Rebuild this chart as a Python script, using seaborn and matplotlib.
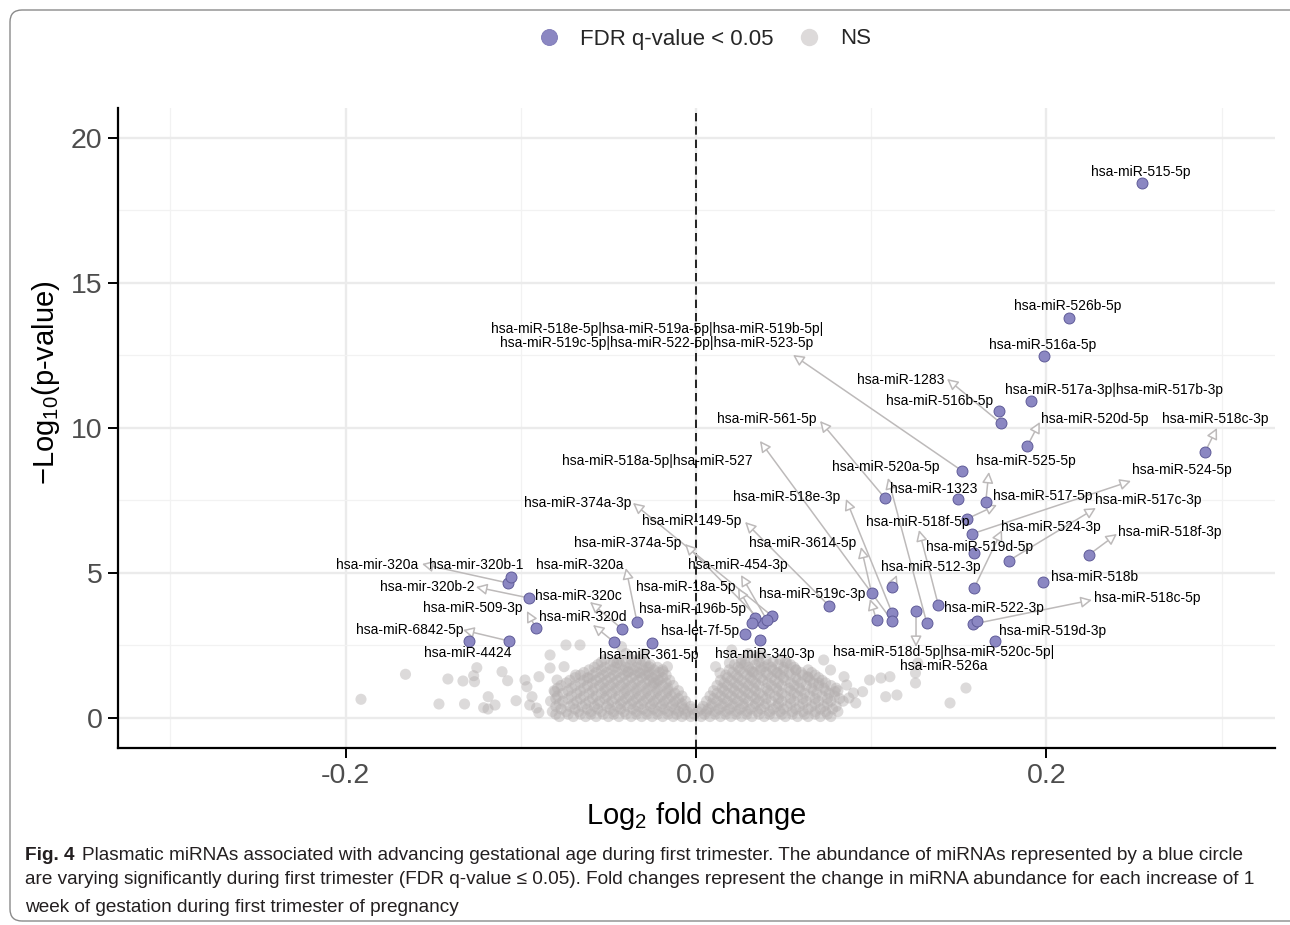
import numpy as np
import pandas as pd
import matplotlib
matplotlib.use("Agg")
import matplotlib.pyplot as plt
import seaborn as sns
from matplotlib import font_manager
from matplotlib.patches import FancyBboxPatch
from matplotlib.lines import Line2D

# ---------------- data ----------------
sig_names = [
    "hsa-mir-320a", "hsa-mir-320b-1", "hsa-mir-320b-2", "hsa-miR-320c", "hsa-miR-509-3p",
    "hsa-miR-6842-5p", "hsa-miR-4424", "hsa-miR-320d", "hsa-miR-320a", "hsa-miR-361-5p",
    "hsa-miR-374a-3p", "hsa-miR-149-5p", "hsa-miR-374a-5p", "hsa-miR-454-3p", "hsa-miR-18a-5p",
    "hsa-miR-196b-5p", "hsa-let-7f-5p", "hsa-miR-340-3p", "hsa-miR-519c-3p", "hsa-miR-3614-5p",
    "hsa-miR-518e-3p", "hsa-miR-518a-5p|hsa-miR-527", "hsa-miR-561-5p", "hsa-miR-512-3p",
    "hsa-miR-518d-5p|hsa-miR-520c-5p|\nhsa-miR-526a", "hsa-miR-520a-5p", "hsa-miR-518f-5p",
    "hsa-miR-518e-5p|hsa-miR-519a-5p|hsa-miR-519b-5p|\nhsa-miR-519c-5p|hsa-miR-522-5p|hsa-miR-523-5p",
    "hsa-miR-1323", "hsa-miR-525-5p", "hsa-miR-517-5p", "hsa-miR-524-5p", "hsa-miR-519d-5p",
    "hsa-miR-517c-3p", "hsa-miR-518f-3p", "hsa-miR-524-3p", "hsa-miR-518b", "hsa-miR-518c-5p",
    "hsa-miR-522-3p", "hsa-miR-519d-3p", "hsa-miR-520d-5p", "hsa-miR-518c-3p", "hsa-miR-1283",
    "hsa-miR-516b-5p", "hsa-miR-517a-3p|hsa-miR-517b-3p", "hsa-miR-516a-5p", "hsa-miR-526b-5p",
    "hsa-miR-515-5p",
]
sig_logfc = [
    -0.1073, -0.1056, -0.0953, -0.0422, -0.0915, -0.1067, -0.1296, -0.0468, -0.0337, -0.0253,
    0.0432, 0.0761, 0.0384, 0.0404, 0.0337, 0.0318, 0.0280, 0.0365, 0.1031, 0.1003,
    0.1119, 0.1119, 0.1079, 0.1119, 0.1256, 0.1317, 0.1383, 0.1517, 0.1494, 0.1654,
    0.1545, 0.1574, 0.1587, 0.1785, 0.2241, 0.1587, 0.1979, 0.1583, 0.1606, 0.1707,
    0.1891, 0.2905, 0.1741, 0.1731, 0.1912, 0.1988, 0.2127, 0.2546,
]
sig_logp = [
    4.655, 4.862, 4.138, 3.069, 3.114, 2.655, 2.655, 2.621, 3.321, 2.603,
    3.528, 3.862, 3.266, 3.379, 3.459, 3.266, 2.897, 2.679, 3.379, 4.300,
    3.631, 3.355, 7.576, 4.528, 3.700, 3.286, 3.897, 8.528, 7.541, 7.459,
    6.862, 6.345, 5.679, 5.424, 5.621, 4.472, 4.690, 3.241, 3.345, 2.645,
    9.379, 9.162, 10.162, 10.586, 10.931, 12.472, 13.803, 18.448,
]

# non-significant miRNAs: scattered outer points
ns_out_x = [
    -0.1912, -0.1658, -0.1467, -0.1416, -0.1330, -0.1321, -0.1269, -0.1251, -0.1264, -0.1212,
    -0.1186, -0.1187, -0.1147, -0.1107, -0.1075, -0.1027, -0.0976, -0.0965, -0.0936, -0.0910,
    -0.0949, -0.0833, -0.0805, -0.0897, -0.0742, -0.0662, -0.0753, -0.0687, -0.0611, -0.0793,
    -0.0833, -0.0896, -0.0425, -0.0451, -0.0386, -0.0320, -0.0268, -0.0241, -0.0188, -0.0163,
    -0.0268, -0.0217,
    0.0112, 0.0137, 0.0191, 0.0257, 0.0322, 0.0388, 0.0466, 0.0519, 0.0571, 0.0637,
    0.0702, 0.0768, 0.0793, 0.0845, 0.0860, 0.0873, 0.0912, 0.0899, 0.0951, 0.1056,
    0.1107, 0.1083, 0.1147, 0.1253, 0.1253, 0.1266, 0.1450, 0.1541, 0.0360, 0.0204,
    0.0991, 0.0729,
]
ns_out_y = [
    0.645, 1.507, 0.483, 1.345, 1.276, 0.483, 1.459, 1.734, 1.252, 0.355,
    0.734, 0.310, 0.448, 1.597, 1.286, 0.597, 1.310, 1.079, 0.734, 0.345,
    0.448, 2.172, 0.907, 0.183, 2.517, 2.517, 1.769, 1.483, 1.379, 1.310,
    1.724, 1.424, 2.459, 1.897, 1.597, 1.552, 1.483, 1.207, 1.597, 1.769,
    1.769, 1.310,
    1.769, 1.552, 1.897, 1.897, 1.597, 1.769, 1.552, 1.897, 1.655, 1.424,
    1.207, 1.655, 0.907, 1.424, 1.138, 0.690, 0.517, 0.862, 0.907, 1.379,
    1.424, 0.734, 0.793, 1.207, 1.552, 1.897, 0.517, 1.034, 2.114, 2.345,
    1.310, 2.000,
]
# non-significant miRNAs: dense core, listed by -log10(p) level
ns_core_levels = [0.05, 0.13, 0.22, 0.31, 0.40, 0.49, 0.58, 0.67, 0.76, 0.85, 0.94, 1.03,
                  1.12, 1.21, 1.30, 1.39, 1.48, 1.57, 1.66, 1.75, 1.84, 1.93, 2.02, 2.22]
ns_core_x = [
    [-0.078, -0.070, -0.063, -0.057, -0.050, -0.044, -0.037, -0.031, -0.025, -0.019, -0.013, -0.008,
     -0.003, 0.003, 0.008, 0.014, 0.020, 0.026, 0.032, 0.039, 0.045, 0.051, 0.058, 0.064, 0.071, 0.077],
    [-0.080, -0.073, -0.066, -0.060, -0.053, -0.047, -0.040, -0.034, -0.028, -0.022, -0.016, -0.011,
     -0.006, -0.001, 0.005, 0.011, 0.017, 0.023, 0.029, 0.036, 0.042, 0.049, 0.055, 0.062, 0.068, 0.075],
    [-0.082, -0.074, -0.067, -0.060, -0.054, -0.047, -0.041, -0.034, -0.028, -0.022, -0.016, -0.010,
     -0.005, 0.001, 0.006, 0.011, 0.017, 0.023, 0.029, 0.035, 0.042, 0.048, 0.055, 0.061, 0.068, 0.074, 0.081],
    [-0.077, -0.069, -0.062, -0.056, -0.049, -0.043, -0.036, -0.030, -0.024, -0.018, -0.012, -0.007,
     -0.002, 0.003, 0.007, 0.013, 0.019, 0.025, 0.031, 0.037, 0.044, 0.050, 0.057, 0.064, 0.071, 0.078],
    [-0.080, -0.072, -0.065, -0.058, -0.051, -0.045, -0.039, -0.033, -0.026, -0.020, -0.014, -0.008,
     -0.003, 0.004, 0.009, 0.015, 0.021, 0.027, 0.033, 0.039, 0.046, 0.052, 0.059, 0.066, 0.073, 0.080],
    [-0.078, -0.070, -0.063, -0.056, -0.050, -0.043, -0.037, -0.031, -0.025, -0.019, -0.013, -0.008,
     0.009, 0.015, 0.021, 0.027, 0.034, 0.040, 0.047, 0.054, 0.061, 0.068, 0.075],
    [-0.083, -0.076, -0.068, -0.061, -0.055, -0.048, -0.042, -0.036, -0.030, -0.024, -0.018, -0.012,
     -0.006, 0.006, 0.012, 0.018, 0.024, 0.030, 0.036, 0.043, 0.049, 0.056, 0.063, 0.070, 0.077, 0.084],
    [-0.080, -0.073, -0.066, -0.059, -0.052, -0.046, -0.040, -0.034, -0.028, -0.022, -0.016, -0.010,
     0.010, 0.016, 0.022, 0.028, 0.034, 0.040, 0.047, 0.054, 0.061, 0.068, 0.075, 0.082],
    [-0.079, -0.071, -0.064, -0.057, -0.051, -0.044, -0.038, -0.032, -0.026, -0.020, -0.014, -0.008,
     0.008, 0.014, 0.020, 0.026, 0.032, 0.038, 0.045, 0.051, 0.058, 0.065, 0.072, 0.079],
    [-0.076, -0.068, -0.061, -0.054, -0.048, -0.041, -0.035, -0.029, -0.023, -0.017, -0.012,
     0.012, 0.018, 0.024, 0.030, 0.036, 0.042, 0.049, 0.056, 0.062, 0.069, 0.076],
    [-0.081, -0.073, -0.066, -0.059, -0.052, -0.046, -0.040, -0.034, -0.028, -0.022, -0.016, -0.010,
     0.010, 0.016, 0.022, 0.028, 0.034, 0.041, 0.047, 0.054, 0.060, 0.067, 0.074, 0.081],
    [-0.079, -0.071, -0.064, -0.058, -0.052, -0.046, -0.040, -0.034, -0.028, -0.022, -0.016,
     0.015, 0.021, 0.027, 0.033, 0.040, 0.046, 0.053, 0.059, 0.066, 0.073, 0.080],
    [-0.077, -0.069, -0.062, -0.055, -0.049, -0.043, -0.037, -0.031, -0.025, -0.019, -0.013,
     0.012, 0.018, 0.024, 0.030, 0.036, 0.043, 0.049, 0.056, 0.063, 0.070, 0.077],
    [-0.074, -0.066, -0.059, -0.053, -0.047, -0.041, -0.035, -0.029, -0.023, -0.017,
     0.016, 0.022, 0.028, 0.034, 0.041, 0.047, 0.054, 0.060, 0.067, 0.074],
    [-0.072, -0.064, -0.057, -0.051, -0.045, -0.039, -0.033, -0.027, -0.021, -0.015,
     0.014, 0.020, 0.026, 0.032, 0.038, 0.045, 0.051, 0.058, 0.065, 0.072],
    [-0.069, -0.062, -0.055, -0.049, -0.043, -0.037, -0.031, -0.025, -0.019,
     0.018, 0.024, 0.031, 0.037, 0.043, 0.050, 0.057, 0.064, 0.070],
    [-0.066, -0.059, -0.053, -0.047, -0.041, -0.035, -0.029, -0.023, -0.017,
     0.017, 0.023, 0.029, 0.035, 0.041, 0.048, 0.054, 0.061, 0.068],
    [-0.064, -0.057, -0.051, -0.045, -0.039, -0.033, -0.027, -0.021,
     0.021, 0.027, 0.033, 0.040, 0.046, 0.053, 0.060, 0.066],
    [-0.061, -0.054, -0.048, -0.042, -0.036, -0.030, -0.024, -0.019,
     0.019, 0.025, 0.031, 0.037, 0.044, 0.050, 0.057, 0.064],
    [-0.058, -0.052, -0.046, -0.040, -0.034, -0.028, -0.022,
     0.024, 0.030, 0.037, 0.043, 0.050, 0.056],
    [-0.056, -0.049, -0.043, -0.037, -0.031, -0.026, 0.022, 0.028, 0.034, 0.041, 0.047, 0.054],
    [-0.054, -0.047, -0.040, -0.034, -0.029, 0.028, 0.036, 0.044, 0.051],
    [-0.052, -0.044, -0.037, -0.032, 0.026, 0.033, 0.040, 0.048],
    [-0.040, -0.030, 0.030, 0.037],
]

# label placement (layout, in data units) and arrow end points (NaN = no connector)
nan = np.nan
label_x = [
    -0.1821, -0.1256, -0.1535, -0.0674, -0.1273, -0.1632, -0.1301, -0.0645, -0.0662, -0.0268,
    -0.0674, -0.0023, -0.0388, 0.0240, -0.0057, -0.0017, 0.0023, 0.0394, 0.0662, 0.0611,
    0.0519, -0.0223, 0.0405, 0.1341, 0.1416, 0.1084, 0.1267, -0.0223, 0.1358, 0.1884,
    0.1981, 0.2774, 0.1621, 0.2580, 0.2705, 0.2026, 0.2277, 0.2574, 0.1701, 0.2038,
    0.2277, 0.2962, 0.1170, 0.1393, 0.2386, 0.1981, 0.2123, 0.2540,
]
label_y = [
    5.276, 5.276, 4.517, 4.207, 3.793, 3.034, 2.241, 3.483, 5.276, 2.172,
    7.414, 6.793, 6.034, 5.276, 4.517, 3.759, 3.000, 2.207, 4.276, 6.034,
    7.621, 8.862, 10.310, 5.207, 2.034, 8.655, 6.759, 13.172, 7.897, 8.862,
    7.655, 8.552, 5.897, 7.517, 6.414, 6.586, 4.862, 4.138, 3.793, 3.000,
    10.310, 10.310, 11.655, 10.931, 11.310, 12.862, 14.207, 18.828,
]
arrow_x = [
    -0.1564, nan, -0.1256, -0.0605, -0.0965, -0.1330, nan, -0.0588, -0.0400, nan,
    -0.0360, 0.0280, -0.0063, 0.0257, 0.0240, nan, nan, nan, 0.0993, 0.0942,
    0.0856, 0.0365, 0.0708, 0.1147, 0.1256, 0.1096, 0.1273, 0.0554, nan, 0.1672,
    0.1718, 0.2483, nan, 0.2283, 0.2403, 0.1747, nan, 0.2260, nan, nan,
    0.1963, 0.2974, 0.1433, nan, nan, nan, nan, nan,
]
arrow_y = [
    5.310, nan, 4.517, 4.000, 3.690, 3.034, nan, 3.207, 5.172, nan,
    7.414, 6.759, 6.000, 4.931, 4.483, nan, nan, nan, 4.103, 5.897,
    7.552, 9.552, 10.241, 4.931, 2.448, 8.276, 6.483, 12.517, nan, 8.483,
    7.345, 8.172, nan, 7.241, 6.345, 6.483, nan, 4.069, nan, nan,
    10.207, 10.000, 11.690, nan, nan, nan, nan, nan,
]

x_ticks = [-0.2, 0.0, 0.2]
x_tick_labels = ["-0.2", "0.0", "0.2"]
y_ticks = [0, 5, 10, 15, 20]
legend_labels = ["FDR q-value < 0.05", "NS"]
caption_bold = "Fig. 4"
caption_lines = [
    "Plasmatic miRNAs associated with advancing gestational age during first trimester. The abundance of miRNAs represented by a blue circle",
    "are varying significantly during first trimester (FDR q-value \u2264 0.05). Fold changes represent the change in miRNA abundance for each increase of 1",
    "week of gestation during first trimester of pregnancy",
]

# ---------------- build tables ----------------
ns_x = list(ns_out_x)
ns_y = list(ns_out_y)
for lv, xs in zip(ns_core_levels, ns_core_x):
    ns_x.extend(xs)
    ns_y.extend([lv] * len(xs))
df_ns = pd.DataFrame({"logFC": ns_x, "logP": ns_y, "group": "NS"})
df_sig = pd.DataFrame({"logFC": sig_logfc, "logP": sig_logp, "group": legend_labels[0],
                       "name": sig_names})

# ---------------- style ----------------
sns.set_theme(style="white")
plt.rcParams["font.family"] = ["Liberation Sans", "DejaVu Sans"]
plt.rcParams["mathtext.fontset"] = "custom"
plt.rcParams["mathtext.rm"] = "Liberation Sans"
plt.rcParams["mathtext.it"] = "Liberation Sans:italic"
plt.rcParams["mathtext.bf"] = "Liberation Sans:bold"

W, H = 1290, 925
fig = plt.figure(figsize=(W / 100, H / 100), dpi=100)
fig.patch.set_facecolor("white")
ax = fig.add_axes([118 / W, 1 - 748 / H, (1275 - 118) / W, (748 - 108) / H])
ax.set_facecolor("white")

SIG_FILL = "#8b87c2"
SIG_EDGE = "#5f5b98"
NS_COL = "#b3aeae"

sns.scatterplot(data=df_ns, x="logFC", y="logP", color=NS_COL, alpha=0.45, s=64,
                edgecolor="none", linewidth=0, ax=ax, legend=False, zorder=2)
sns.scatterplot(data=df_sig, x="logFC", y="logP", color=SIG_FILL, s=62,
                edgecolor=SIG_EDGE, linewidth=0.7, ax=ax, legend=False, zorder=5)

ax.set_xlim(-0.3299, 0.3305)
ax.set_ylim(-1.034, 21.03)
ax.set_xticks(x_ticks)
ax.set_xticklabels(x_tick_labels)
ax.set_yticks(y_ticks)
ax.set_xticks([-0.3, -0.1, 0.1, 0.3], minor=True)
ax.set_yticks([2.5, 7.5, 12.5, 17.5], minor=True)
ax.grid(which="major", color="#ebebeb", linewidth=1.7, zorder=0)
ax.grid(which="minor", color="#f2f2f2", linewidth=0.9, zorder=0)
ax.set_axisbelow(True)
for s in ["top", "right"]:
    ax.spines[s].set_visible(False)
for s in ["left", "bottom"]:
    ax.spines[s].set_color("black")
    ax.spines[s].set_linewidth(1.6)
ax.tick_params(axis="both", which="major", direction="out", length=7, width=1.4,
               color="black", labelsize=20.5, labelcolor="#4d4d4d", pad=4,
               left=True, bottom=True)
ax.tick_params(axis="both", which="minor", length=0)

ax.axvline(0, color="black", linestyle=(0, (5, 3)), linewidth=1.2, zorder=3)

ax.set_xlabel("Log$_{\\mathrm{2}}$ fold change", fontsize=21, color="black")
ax.set_ylabel("\u2212Log$_{\\mathrm{10}}$(p-value)", fontsize=21, color="black")
ax.xaxis.set_label_coords(0.5, -0.081)
ax.yaxis.set_label_coords(-0.048, 0.57)

# labels + connectors
for i, nm in enumerate(sig_names):
    ax.text(label_x[i], label_y[i], nm, ha="center", va="center", fontsize=10,
            color="black", linespacing=1.0, zorder=6)
    if not np.isnan(arrow_x[i]):
        ax.annotate("", xy=(arrow_x[i], arrow_y[i]), xytext=(sig_logfc[i], sig_logp[i]),
                    arrowprops=dict(arrowstyle="-|>,head_length=0.55,head_width=0.28",
                                    ec="#bdbaba", fc="white", lw=1.1,
                                    shrinkA=3.5, shrinkB=0),
                    zorder=4)

# legend on top
handles = [
    Line2D([], [], marker="o", ls="", markersize=11.5, markerfacecolor=SIG_FILL,
           markeredgecolor="#7c78b6", markeredgewidth=0.6),
    Line2D([], [], marker="o", ls="", markersize=11.5, markerfacecolor="#dddada",
           markeredgecolor="#dddada"),
]
fig.legend(handles, legend_labels, loc="center", bbox_to_anchor=(0.546, 1 - 39 / H),
           ncol=2, frameon=False, fontsize=16, handletextpad=0.9, columnspacing=1.1,
           handlelength=1.0)

# caption
names = {f.name for f in font_manager.fontManager.ttflist}
cap_family = "Liberation Sans Narrow" if "Liberation Sans Narrow" in names else "Liberation Sans"
cap_color = "#231f20"
fs0 = 13.0
fig.canvas.draw()
r = fig.canvas.get_renderer()
tb = fig.text(25 / W, 1 - 855 / H, caption_bold, fontsize=fs0, weight="bold",
              family=[cap_family, "DejaVu Sans"], color=cap_color, va="center", ha="left")
tr = fig.text(0, 1 - 855 / H, caption_lines[0], fontsize=fs0,
              family=[cap_family, "DejaVu Sans"], color=cap_color, va="center", ha="left")
wb = tb.get_window_extent(r).width
wr = tr.get_window_extent(r).width
scale = (1253 - 25 - 8) / (wb + wr)
fs = fs0 * scale
tb.set_fontsize(fs)
tr.set_fontsize(fs)
wb = tb.get_window_extent(r).width
tr.set_x((25 + wb + 8) / W)
for line, yy in zip(caption_lines[1:], [880, 907]):
    fig.text(25 / W, 1 - yy / H, line, fontsize=fs, family=[cap_family, "DejaVu Sans"],
             color=cap_color, va="center", ha="left")

# rounded frame around the figure
frame = FancyBboxPatch((10, 4), 1300, 911, boxstyle="round,pad=0,rounding_size=12",
                       transform=None, fc="none", ec="#8a8a8a", lw=1.0, zorder=0)
fig.patches.append(frame)

fig.savefig("out.png", dpi=100)
